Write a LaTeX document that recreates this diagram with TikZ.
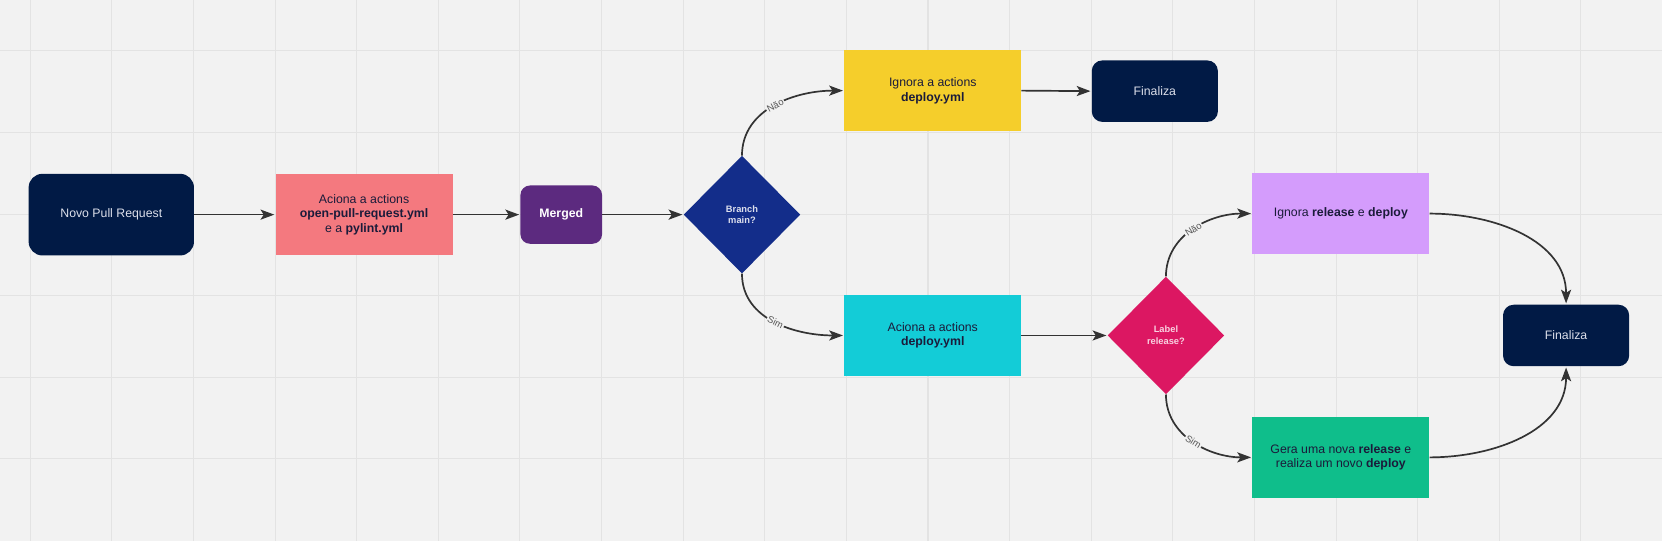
\documentclass[tikz,border=0pt]{standalone}
\usepackage{fontspec}
\setmainfont{Liberation Sans}
\usetikzlibrary{shapes.geometric,arrows.meta}
\definecolor{bgcol}{HTML}{F2F2F2}
\definecolor{gridcol}{HTML}{E3E3E3}
\definecolor{navy}{HTML}{011A45}
\definecolor{pinkcol}{HTML}{F4797F}
\definecolor{mergedcol}{HTML}{5C2A7F}
\definecolor{branchcol}{HTML}{132D8A}
\definecolor{yellowcol}{HTML}{F5CE2B}
\definecolor{cyancol}{HTML}{13CCD7}
\definecolor{labelcol}{HTML}{DC1762}
\definecolor{lilaccol}{HTML}{D49CFC}
\definecolor{greencol}{HTML}{0FBE8B}
\definecolor{txtdark}{HTML}{1B1B3A}
\definecolor{txtlight}{HTML}{DCDFEA}
\definecolor{arrowcol}{HTML}{333333}
\definecolor{choicecol}{HTML}{555555}
\begin{document}
\begin{tikzpicture}[x=1pt, y=-1pt,
    font=\fontsize{11.6}{13.6}\selectfont,
    box/.style={rectangle, minimum width=167pt, minimum height=77pt, inner sep=2pt, align=center, text=txtdark},
    endbox/.style={rectangle, rounded corners=10pt, fill=navy, text=txtlight, minimum width=119pt, minimum height=58pt},
    decision/.style={diamond, minimum width=110pt, minimum height=111pt, inner sep=0pt, align=center, font=\fontsize{8.8}{11}\selectfont\bfseries},
    flow/.style={draw=arrowcol, line width=1.6pt, shorten >=1pt, -{Stealth[length=13pt,width=9.5pt,inset=3pt]}},
    choice/.style={fill=bgcol, text=choicecol, font=\fontsize{9}{10}\selectfont, inner sep=1pt, sloped}]
    \useasboundingbox (0,0) rectangle (1568,510);
    \fill[bgcol] (0,0) rectangle (1568,510);
    \foreach \gx in {0,...,19}
        \draw[gridcol, line width=1pt] (28.5+77*\gx,0) -- ++(0,510);
    \foreach \gy in {0,...,5}
        \draw[gridcol, line width=1pt] (0,48+77*\gy) -- ++(1568,0);

    \node[rectangle, rounded corners=13pt, fill=navy, text=txtlight, minimum width=156pt, minimum height=77pt] (novo) at (105,202.5) {Novo Pull Request};
    \node[box, fill=pinkcol] (aciona) at (343.5,202.5) {Aciona a actions\\\textbf{open-pull-request.yml}\\e a \textbf{pylint.yml}};
    \node[rectangle, rounded corners=9pt, fill=mergedcol, text=white, minimum width=77pt, minimum height=55pt, font=\fontsize{11.6}{13.6}\selectfont\bfseries] (merged) at (529.5,202.5) {Merged};
    \node[decision, fill=branchcol, text=white!85!branchcol] (branch) at (700,202.5) {Branch\\main?};
    \node[box, fill=yellowcol] (ignora) at (880,85.5) {Ignora a actions\\\textbf{deploy.yml}};
    \node[endbox] (fimA) at (1089.5,86) {Finaliza};
    \node[box, fill=cyancol] (deploy) at (880,316.5) {Aciona a actions\\\textbf{deploy.yml}};
    \node[decision, fill=labelcol, text=white!80!labelcol] (label) at (1100,316.5) {Label\\release?};
    \node[box, fill=lilaccol] (semrelease) at (1265,201.5) {Ignora \textbf{release} e \textbf{deploy}};
    \node[box, fill=greencol] (release) at (1265,431.5) {Gera uma nova \textbf{release} e\\realiza um novo \textbf{deploy}};
    \node[endbox] (fimB) at (1477.5,316.5) {Finaliza};

    \draw[flow] (novo.east) -- (aciona.west);
    \draw[flow] (aciona.east) -- (merged.west);
    \draw[flow] (merged.east) -- (branch.west);
    \draw[flow] (branch.north) to[out=90, in=180] node[choice, pos=0.5] {Não} (ignora.west);
    \draw[flow] (branch.south) to[out=-90, in=180] node[choice, pos=0.5] {Sim} (deploy.west);
    \draw[flow] (ignora.east) -- (fimA.west);
    \draw[flow] (deploy.east) -- (label.west);
    \draw[flow] (label.north) to[out=90, in=180] node[choice, pos=0.5] {Não} (semrelease.west);
    \draw[flow] (label.south) to[out=-90, in=180] node[choice, pos=0.5] {Sim} (release.west);
    \draw[flow] (semrelease.east) to[out=0, in=90] (fimB.north);
    \draw[flow] (release.east) to[out=0, in=-90] (fimB.south);
\end{tikzpicture}
\end{document}
